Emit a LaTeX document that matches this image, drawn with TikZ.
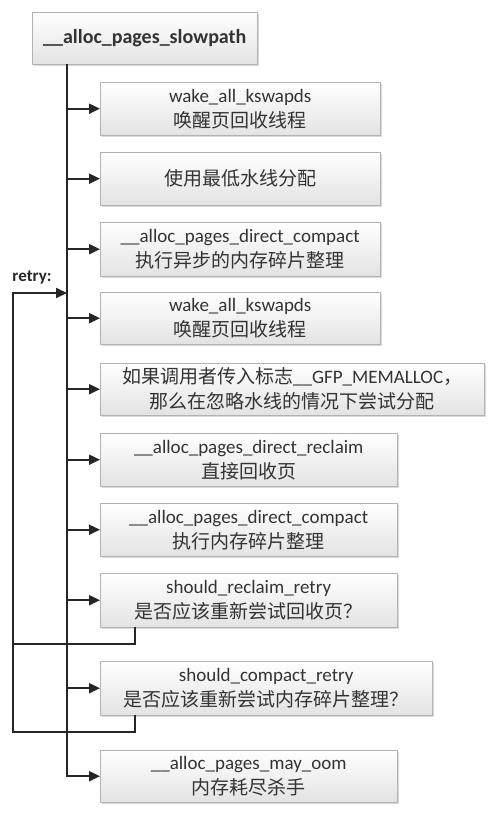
\documentclass[tikz,border=0pt]{standalone}
\usepackage{fontspec}
\setmainfont{Carlito}
\newfontfamily\cjk{Noto Sans CJK SC}
\usetikzlibrary{arrows.meta,shadows}
\tikzset{
  box/.style={draw=gray!60, top color=white, bottom color=gray!22,
    drop shadow={shadow xshift=2pt, shadow yshift=-2pt, opacity=0.3},
    anchor=north west, align=center, inner sep=0pt, text=black!80,
    minimum height=53pt, font=\fontsize{19}{25}\selectfont},
  flow/.style={line width=2pt, draw=black!85, -{Triangle[length=11pt,width=10pt]}},
  wire/.style={line width=2pt, draw=black!85},
}
\begin{document}
\begin{tikzpicture}[x=1pt, y=-1pt]
                \useasboundingbox (0,0) rectangle (498,814);
                \node[box, minimum width=225pt, minimum height=52pt, font=\bfseries\fontsize{20}{25}\selectfont] (slow) at (32,12) {\_\_alloc\_pages\_slowpath};
                \node[box, minimum width=280pt] (wake) at (100,82) {wake\_all\_kswapds\\{\cjk 唤醒页回收线程}};
                \node[box, minimum width=280pt] (lowwm) at (100,152) {{\cjk 使用最低水线分配}};
                \node[box, minimum width=280pt, minimum height=54pt] (asyncc) at (100,222) {\_\_alloc\_pages\_direct\_compact\\{\cjk 执行异步的内存碎片整理}};
                \node[box, minimum width=280pt, minimum height=52pt] (wakeb) at (100,292) {wake\_all\_kswapds\\{\cjk 唤醒页回收线程}};
                \node[box, minimum width=384pt, minimum height=52pt] (nowm) at (100,363) {{\cjk 如果调用者传入标志}\_\_GFP\_MEMALLOC{\cjk ，}\\{\cjk 那么在忽略水线的情况下尝试分配}};
                \node[box, minimum width=297pt] (reclaim) at (100,433) {\_\_alloc\_pages\_direct\_reclaim\\{\cjk 直接回收页}};
                \node[box, minimum width=297pt] (compact) at (100,503) {\_\_alloc\_pages\_direct\_compact\\{\cjk 执行内存碎片整理}};
                \node[box, minimum width=297pt, minimum height=54pt] (rretry) at (100,573) {should\_reclaim\_retry\\{\cjk 是否应该重新尝试回收页？}};
                \node[box, minimum width=332pt, minimum height=54pt] (cretry) at (100,661) {should\_compact\_retry\\{\cjk 是否应该重新尝试内存碎片整理？}};
                \node[box, minimum width=297pt, minimum height=52pt] (oom) at (100,750) {\_\_alloc\_pages\_may\_oom\\{\cjk 内存耗尽杀手}};
                \node[font=\bfseries\fontsize{17}{20}\selectfont, text=black!85] (retrylbl) at (32,277) {retry:};
                \coordinate (trunk) at (67,0);
                \coordinate (back) at (135,0);
                \coordinate (retry) at (67,293);
                \coordinate (loopa) at (13,644);
                \coordinate (loopb) at (13,732);
                \draw[flow] (slow.south -| trunk) |- (oom.west);
                \draw[flow] (wake.west -| trunk) -- (wake.west);
                \draw[flow] (lowwm.west -| trunk) -- (lowwm.west);
                \draw[flow] (asyncc.west -| trunk) -- (asyncc.west);
                \draw[flow] (wakeb.west -| trunk) -- (wakeb.west);
                \draw[flow] (nowm.west -| trunk) -- (nowm.west);
                \draw[flow] (reclaim.west -| trunk) -- (reclaim.west);
                \draw[flow] (compact.west -| trunk) -- (compact.west);
                \draw[flow] (rretry.west -| trunk) -- (rretry.west);
                \draw[flow] (cretry.west -| trunk) -- (cretry.west);
                \draw[flow] (rretry.south -| back) |- (loopa) |- (retry);
                \draw[wire] (cretry.south -| back) |- (loopb) -- (loopa);
            \end{tikzpicture}
\end{document}
